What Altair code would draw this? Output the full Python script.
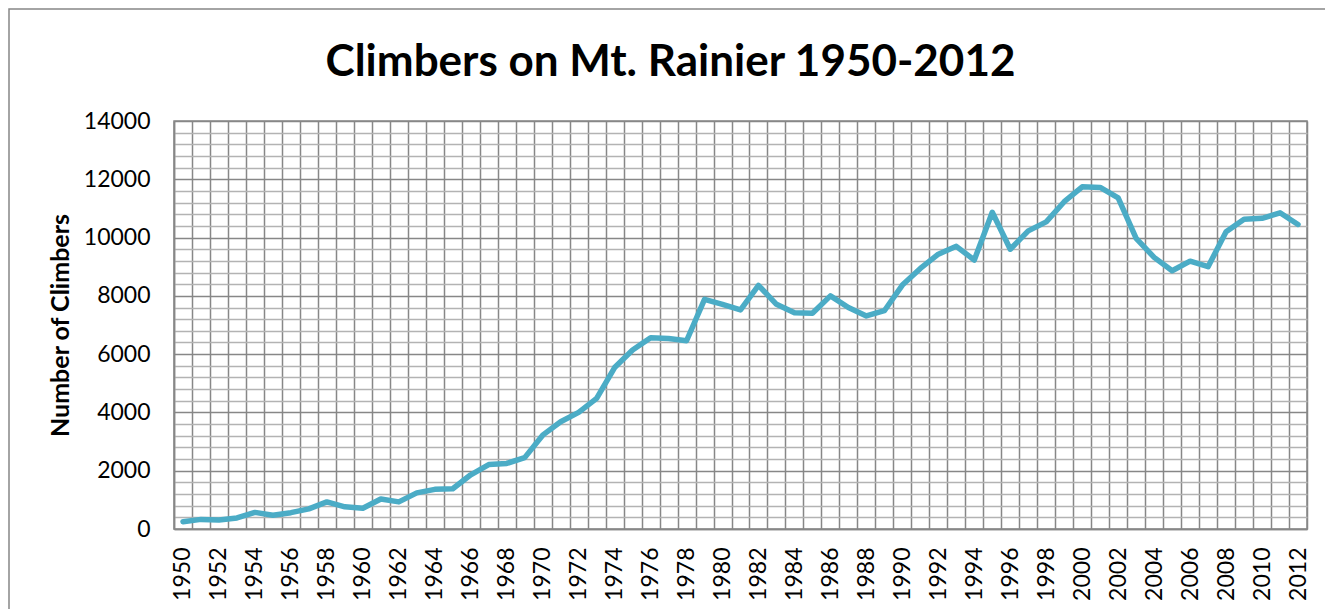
import altair as alt
import pandas as pd

years = list(range(1950, 2013))
climbers = [
    250, 330, 310, 380, 570, 470, 560, 690, 930, 760,
    710, 1030, 930, 1240, 1360, 1380, 1860, 2210, 2250, 2450,
    3220, 3680, 4000, 4480, 5540, 6140, 6560, 6540, 6460, 7880,
    7710, 7520, 8360, 7710, 7420, 7400, 8000, 7600, 7310, 7490,
    8370, 8940, 9430, 9700, 9230, 10870, 9600, 10230, 10540, 11230,
    11740, 11720, 11360, 9970, 9320, 8860, 9190, 9000, 10200, 10630,
    10660, 10850, 10450,
]
y_grid_values = list(range(0, 14001, 400))

df = pd.DataFrame({"Year": years, "Climbers": climbers})

FONT = "Lato"
DARK = "#878787"
LIGHT = "#b3b3b3"

x_enc = alt.X(
    "Year:O",
    scale=alt.Scale(paddingInner=0, paddingOuter=0),
    axis=alt.Axis(
        title=None,
        labelAngle=270,
        labelExpr="datum.value % 2 == 0 ? datum.label : ''",
        labelFont=FONT,
        labelFontSize=23,
        labelColor="#000000",
        labelPadding=18,
        labelOverlap=False,
        ticks=False,
        tickBand="extent",
        grid=True,
        gridColor=DARK,
        gridWidth=1.5,
        domainColor=DARK,
        domainWidth=1.5,
    ),
)

y_enc = alt.Y(
    "Climbers:Q",
    scale=alt.Scale(domain=[0, 14000], nice=False),
    axis=alt.Axis(
        title="Number of Climbers",
        titleFont=FONT,
        titleFontSize=25,
        titleFontWeight="bold",
        titleColor="#000000",
        titleAngle=270,
        titleAlign="center",
        titleBaseline="middle",
        titleX=-114,
        titleY=204,
        values=y_grid_values,
        labelExpr="datum.value % 2000 == 0 ? datum.label : ''",
        format="d",
        labelFont=FONT,
        labelFontSize=23,
        labelColor="#000000",
        labelPadding=24,
        labelOverlap=False,
        ticks=False,
        grid=True,
        gridColor=alt.condition("datum.value % 2000 == 0", alt.value(DARK), alt.value(LIGHT)),
        gridWidth=1.5,
        domainColor=DARK,
        domainWidth=1.5,
    ),
)

line = alt.Chart(df).mark_line(
    color="#4BACC6", strokeWidth=5.5, strokeJoin="round", strokeCap="round"
).encode(x=x_enc, y=y_enc)

frame = alt.Chart(alt.Data(values=[{}])).mark_rect(
    fillOpacity=0, stroke=DARK, strokeWidth=1.5
).encode(
    x=alt.value(-165),
    y=alt.value(-112),
    x2=alt.value(1300),
    y2=alt.value(700),
)

chart = alt.layer(frame, line).properties(
    width=1133,
    height=408,
    padding={"left": 166, "top": 113, "right": 18, "bottom": 80},
    autosize=alt.AutoSizeParams(type="none"),
    title=alt.TitleParams(
        text="Climbers on Mt. Rainier 1950-2012",
        font=FONT,
        fontSize=44,
        fontWeight="bold",
        color="#000000",
        anchor="middle",
        baseline="alphabetic",
        dx=-70,
        dy=112,
        offset=0,
    ),
).configure_view(stroke=DARK, strokeWidth=1.5)

chart.save("out.html", embed_options={"renderer": "svg", "actions": False})
